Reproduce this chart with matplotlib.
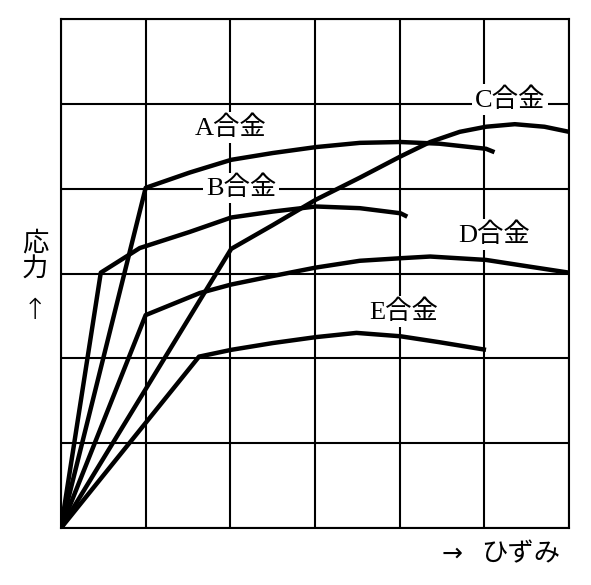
import matplotlib

matplotlib.use("Agg")
import matplotlib.pyplot as plt

plt.rcParams["font.family"] = ["Liberation Serif", "Noto Sans CJK JP", "DejaVu Sans"]

# strain / stress curves (grid units, 6 x 6 cells)
A_X = [0, 1.0, 1.52, 2.01, 2.50, 3.01, 3.53, 4.01, 4.47, 5.02, 5.12]
A_Y = [0, 4.01, 4.19, 4.34, 4.42, 4.49, 4.54, 4.55, 4.53, 4.47, 4.43]

B_X = [0, 0.47, 0.93, 1.52, 2.01, 2.50, 3.01, 3.53, 4.01, 4.09]
B_Y = [0, 3.01, 3.30, 3.49, 3.66, 3.73, 3.79, 3.77, 3.71, 3.67]

C_X = [0, 2.01, 2.50, 3.01, 3.53, 4.01, 4.36, 4.71, 5.02, 5.36, 5.71, 6.0]
C_Y = [0, 3.29, 3.57, 3.87, 4.13, 4.38, 4.55, 4.67, 4.73, 4.76, 4.73, 4.67]

D_X = [0, 1.0, 1.64, 2.01, 2.50, 3.01, 3.53, 4.01, 4.36, 5.02, 5.54, 6.0]
D_Y = [0, 2.51, 2.77, 2.87, 2.97, 3.07, 3.15, 3.18, 3.20, 3.16, 3.08, 3.01]

E_X = [0, 1.63, 2.01, 2.50, 3.01, 3.49, 4.01, 4.47, 5.02]
E_Y = [0, 2.02, 2.10, 2.18, 2.25, 2.30, 2.26, 2.19, 2.10]

LABELS = ["A合金", "B合金", "C合金", "D合金", "E合金"]
LABEL_X = [2.0, 2.13, 5.30, 5.12, 4.05]
LABEL_Y = [4.72, 4.01, 5.05, 3.46, 2.55]

W, H = 591, 585
fig = plt.figure(figsize=(W / 100, H / 100), dpi=100)
ax = fig.add_axes([61 / W, 1 - 528 / H, 508 / W, 509 / H])

ax.set_xlim(0, 6)
ax.set_ylim(0, 6)
ax.set_xticks(range(7))
ax.set_yticks(range(7))
ax.tick_params(length=0, labelbottom=False, labelleft=False)
ax.grid(True, color="black", linewidth=1.5)
for sp in ax.spines.values():
    sp.set_linewidth(1.5)

for xs, ys in [(A_X, A_Y), (B_X, B_Y), (C_X, C_Y), (D_X, D_Y), (E_X, E_Y)]:
    ax.plot(xs, ys, color="black", linewidth=3.2, solid_capstyle="butt", zorder=3)

for txt, lx, ly in zip(LABELS, LABEL_X, LABEL_Y):
    ax.text(lx, ly, txt, fontsize=19, ha="center", va="center", zorder=5,
            bbox=dict(facecolor="white", edgecolor="none", pad=2))

# axis captions
fig.text(35 / W, 1 - 243 / H, "応", fontsize=19, ha="center", va="center")
fig.text(35 / W, 1 - 270 / H, "力", fontsize=19, ha="center", va="center")
fig.text(35 / W, 1 - 311 / H, "↑", fontsize=21, ha="center", va="center",
         family="DejaVu Sans", fontweight="light")
fig.text(452 / W, 1 - 554 / H, "→", fontsize=18, ha="center", va="center",
         family="DejaVu Sans")
fig.text(521 / W, 1 - 555 / H, "ひずみ", fontsize=19, ha="center", va="center")

fig.savefig("out.png", dpi=100)
